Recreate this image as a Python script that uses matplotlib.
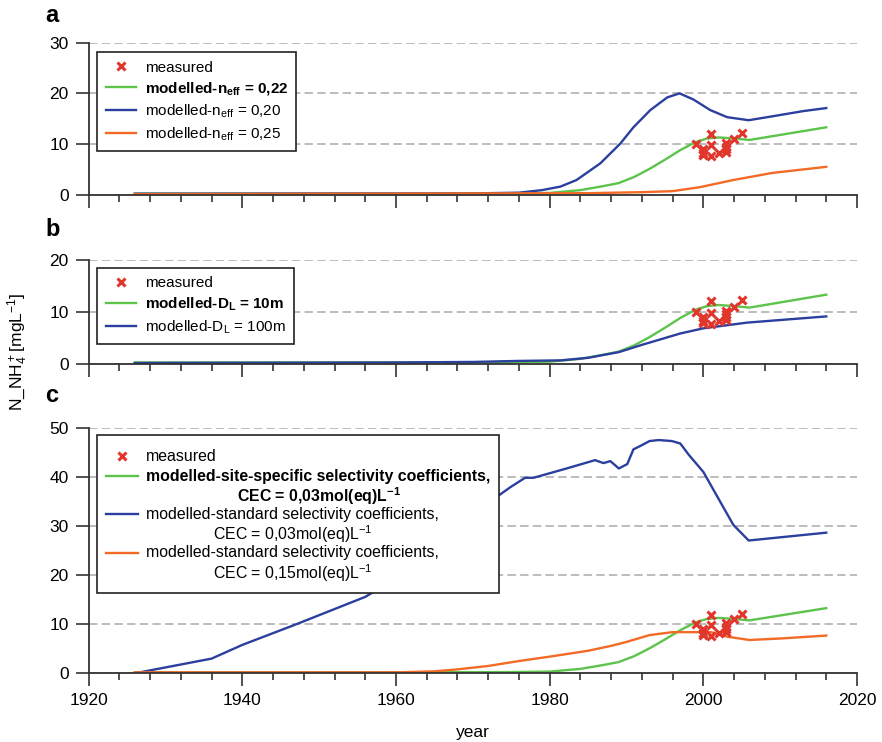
import matplotlib
matplotlib.use("Agg")
import matplotlib.pyplot as plt
from matplotlib.ticker import MultipleLocator

plt.rcParams['font.family'] = ['Liberation Sans', 'DejaVu Sans']
plt.rcParams['mathtext.fontset'] = 'custom'
plt.rcParams['mathtext.rm'] = 'Liberation Sans'
plt.rcParams['mathtext.bf'] = 'Liberation Sans:bold'
plt.rcParams['mathtext.default'] = 'rm'

# measured concentrations (same in all panels)
meas_year = [1999, 2000, 2000, 2000, 2001, 2001, 2001, 2002, 2003, 2003, 2003, 2003, 2004, 2005]
meas_val = [10.0, 9.0, 8.3, 7.8, 12.0, 9.8, 7.7, 8.2, 10.2, 9.5, 9.0, 8.5, 11.0, 12.2]

# reference model (n_eff = 0,22 / D_L = 10m / site-specific)
ref_year = [1926, 1960, 1975, 1980, 1984, 1987, 1989, 1991, 1993, 1995, 1997, 1999, 2000.5, 2002, 2004, 2006, 2010, 2016]
ref_val = [0.2, 0.2, 0.25, 0.35, 0.9, 1.7, 2.3, 3.5, 5.1, 6.9, 8.8, 10.4, 11.1, 11.3, 11.1, 10.8, 11.8, 13.3]

# panel a
a_blue_year = [1926, 1970, 1976, 1979, 1981.4, 1983.5, 1986.6, 1989.2, 1990.9, 1993.1, 1995.3, 1996.9,
               1998.7, 2000.9, 2003.1, 2005.9, 2009.1, 2013, 2016]
a_blue_val = [0.2, 0.25, 0.4, 0.9, 1.6, 2.9, 6.2, 10.1, 13.3, 16.7, 19.2, 20.0,
              18.8, 16.7, 15.3, 14.7, 15.5, 16.5, 17.1]
a_orange_year = [1926, 1985, 1992, 1996, 1999.6, 2003.9, 2009, 2016]
a_orange_val = [0.1, 0.3, 0.5, 0.7, 1.5, 2.9, 4.3, 5.5]

# panel b
b_blue_year = [1926, 1960, 1970, 1976, 1981.4, 1985, 1989, 1992, 1997, 2000, 2005.7, 2016]
b_blue_val = [0.1, 0.2, 0.3, 0.5, 0.6, 1.1, 2.2, 3.6, 5.8, 6.8, 7.9, 9.1]

# panel c
c_blue_year = [1926, 1936, 1940, 1947, 1956, 1958, 1960.8, 1962.1, 1964.4, 1967, 1969.2, 1971.8, 1973.1,
               1974.9, 1976.8, 1977.9, 1982.2, 1985.9, 1987, 1987.9, 1989, 1990.1, 1990.9, 1991.8, 1993,
               1994.2, 1995.9, 1997, 1998.1, 2000, 2002.2, 2003.9, 2005.9, 2016]
c_blue_val = [0, 3.0, 5.8, 10.0, 15.6, 17.5, 20.7, 23.5, 26.2, 28.9, 30.6, 33.5, 36.0,
              38.0, 39.9, 39.9, 41.8, 43.5, 42.9, 43.3, 41.8, 42.7, 45.7, 46.4, 47.4,
              47.6, 47.4, 46.9, 44.6, 41.1, 35.0, 30.3, 27.1, 28.7]
c_orange_year = [1926, 1960, 1965, 1968, 1972, 1976, 1980, 1985, 1988, 1990, 1993, 1996, 2001, 2003, 2006, 2010, 2016]
c_orange_val = [0.2, 0.2, 0.4, 0.8, 1.5, 2.5, 3.4, 4.6, 5.6, 6.4, 7.8, 8.4, 8.4, 7.5, 6.8, 7.1, 7.7]

GREEN = '#5cc34b'
BLUE = '#2b3f9e'
ORANGE = '#f26a25'
RED = '#e0362b'
AXC = '#333333'
FS_TICK = 12.5
FS_LEG = 11

fig = plt.figure(figsize=(8.82, 7.42), dpi=100)
W, H = 882.0, 742.0
left = 88.7 / W
width = (857.0 - 88.7) / W


def make_axes(top_px, bottom_px, ymax, step):
    ax = fig.add_axes([left, 1 - bottom_px / H, width, (bottom_px - top_px) / H])
    ax.set_xlim(1920, 2020)
    ax.set_ylim(0, ymax)
    ax.yaxis.set_major_locator(MultipleLocator(step))
    ax.xaxis.set_major_locator(MultipleLocator(20))
    ax.xaxis.set_minor_locator(MultipleLocator(4))
    for s in ['top', 'right']:
        ax.spines[s].set_visible(False)
    for s in ['left', 'bottom']:
        ax.spines[s].set_color(AXC)
        ax.spines[s].set_linewidth(1.3)
    ax.tick_params(axis='both', which='major', length=9.5, width=1.2, color=AXC,
                   labelsize=FS_TICK, pad=5)
    ax.tick_params(axis='x', which='minor', length=5, width=1.2, color=AXC)
    ax.yaxis.grid(True, linestyle=(0, (5.5, 2.8)), color='#aaaaaa', linewidth=1.1)
    ax.set_axisbelow(True)
    return ax


ax_a = make_axes(42.7, 194.7, 30, 10)
ax_b = make_axes(260.0, 363.5, 20, 10)
ax_c = make_axes(428.3, 673.3, 50, 10)
ax_a.tick_params(axis='x', which='both', labelbottom=False)
ax_b.tick_params(axis='x', which='both', labelbottom=False)

LW = 1.7
MK = dict(linestyle='none', marker='x', color=RED, markersize=5.5, markeredgewidth=2.2, zorder=5)

# panel a
ax_a.plot(meas_year, meas_val, label='measured', **MK)
ax_a.plot(ref_year, ref_val, color=GREEN, lw=LW, label=r'modelled-n$_{\mathbf{eff}}$ = 0,22')
ax_a.plot(a_blue_year, a_blue_val, color=BLUE, lw=LW, label=r'modelled-n$_{\mathrm{eff}}$ = 0,20')
ax_a.plot(a_orange_year, a_orange_val, color=ORANGE, lw=LW, label=r'modelled-n$_{\mathrm{eff}}$ = 0,25')

# panel b
ax_b.plot(meas_year, meas_val, label='measured', **MK)
ax_b.plot(ref_year, ref_val, color=GREEN, lw=LW, label=r'modelled-D$_{\mathbf{L}}$ = 10m')
ax_b.plot(b_blue_year, b_blue_val, color=BLUE, lw=LW, label=r'modelled-D$_{\mathrm{L}}$ = 100m')

# panel c
ax_c.plot(meas_year, meas_val, label='measured', **MK)
ax_c.plot(ref_year, ref_val, color=GREEN, lw=LW,
          label='modelled-site-specific selectivity coefficients,\n'
                r'CEC = 0,03mol(eq)L$^{\mathbf{-1}}$')
ax_c.plot(c_blue_year, c_blue_val, color=BLUE, lw=LW,
          label='modelled-standard selectivity coefficients,\n'
                r'CEC = 0,03mol(eq)L$^{-1}$')
ax_c.plot(c_orange_year, c_orange_val, color=ORANGE, lw=LW,
          label='modelled-standard selectivity coefficients,\n'
                r'CEC = 0,15mol(eq)L$^{-1}$')


def add_legend(ax, x_px, y_px, spacing, fs=FS_LEG, hh=0.7):
    leg = ax.legend(loc='upper left', bbox_to_anchor=(x_px / W, 1 - y_px / H),
                    bbox_transform=fig.transFigure, borderaxespad=0, fontsize=fs,
                    fancybox=False, framealpha=1, edgecolor='#222222', numpoints=1,
                    handlelength=2.0, handletextpad=0.55, labelspacing=spacing,
                    borderpad=0.55, handleheight=hh)
    leg.get_frame().set_linewidth(1.2)
    leg.get_texts()[1].set_fontweight('bold')
    return leg


add_legend(ax_a, 97.3, 52.3, 0.35)
add_legend(ax_b, 97.3, 267.7, 0.35)
leg_c = add_legend(ax_c, 97.3, 435.0, 0.0, fs=11.4, hh=2.05)
for t in leg_c.get_texts():
    t.set_multialignment('center')
    t.set_linespacing(1.1)
# handles sit on the first text line of each two-line entry
for h in leg_c.legend_handles[1:]:
    h.set_ydata([y + 6.5 for y in h.get_ydata()])
leg_c.legend_handles[0].set_ydata([y - 2.5 for y in leg_c.legend_handles[0].get_ydata()])

for ax, letter, ypx in [(ax_a, 'a', 15), (ax_b, 'b', 229), (ax_c, 'c', 395)]:
    fig.text(45 / W, 1 - ypx / H, letter, fontsize=17, fontweight='bold', ha='left', va='center')

fig.text(18 / W, 1 - 352 / H, r'N_NH$_4^+$[mgL$^{-1}$]', rotation=90, fontsize=FS_TICK,
         ha='center', va='center')
ax_c.set_xlabel('year', fontsize=FS_TICK, labelpad=12)

fig.savefig('out.png', dpi=100)
